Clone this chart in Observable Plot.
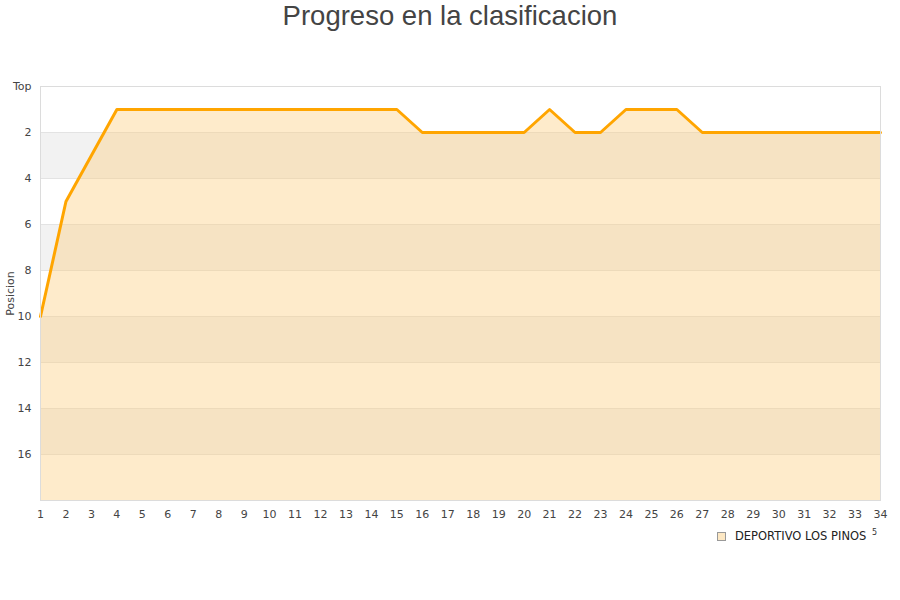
<!DOCTYPE html>
<html>
<head>
<meta charset="utf-8">
<script src="https://cdn.jsdelivr.net/npm/d3@7"></script>
<script src="https://cdn.jsdelivr.net/npm/@observablehq/plot@0.6"></script>
<style>
  html, body { margin: 0; padding: 0; background: #fff; }
  body { width: 900px; height: 600px; position: relative; overflow: hidden; font-family: "DejaVu Sans", sans-serif; }
  #title { height: 40px; line-height: 32px; text-align: center; font-family: "Liberation Sans", Arial, sans-serif; font-size: 27.5px; color: #444; }
  #legend { position: absolute; left: 0; top: 528px; width: 900px; height: 20px; font-size: 11.5px; color: #222; }
  #legend .sw { position: absolute; left: 717px; top: 4px; width: 7px; height: 7px; background: #fde8c4; border: 1px solid #999; }
  #legend .lb { position: absolute; left: 735px; top: 1px; }
  #legend .ex { position: absolute; left: 872px; top: 0px; font-size: 8px; color: #333; }
</style>
</head>
<body>
<div id="title">Progreso en la clasificacion</div>
<div id="chart"></div>
<div id="legend"><span class="sw"></span><span class="lb">DEPORTIVO LOS PINOS</span><span class="ex">5</span></div>
<script>
const rounds = d3.range(1, 35);
const positions = [10, 5, 3, 1, 1, 1, 1, 1, 1, 1, 1, 1, 1, 1, 1, 2, 2, 2, 2, 2, 1, 2, 2, 1, 1, 1, 2, 2, 2, 2, 2, 2, 2, 2];
const yTicks = [0, 2, 4, 6, 8, 10, 12, 14, 16];
const yTickLabels = ["Top", "2", "4", "6", "8", "10", "12", "14", "16"];
const bandStarts = [2, 6, 10, 14];
const yDomain = [0, 18];
const teamName = "DEPORTIVO LOS PINOS";

const data = rounds.map((r, i) => ({round: r, pos: positions[i]}));
const xMin = rounds[0], xMax = rounds[rounds.length - 1];

const chart = Plot.plot({
  width: 900,
  height: 480,
  marginTop: 46,
  marginBottom: 20,
  marginLeft: 40,
  marginRight: 20,
  style: {fontFamily: "DejaVu Sans, sans-serif", fontSize: "11px", color: "#444", background: "#fff"},
  x: {domain: [xMin, xMax], label: null},
  y: {domain: yDomain, reverse: true, label: null},
  marks: [
    Plot.rect(bandStarts, {x1: () => xMin, x2: () => xMax, y1: d => d, y2: d => d + 2, fill: "#f2f2f2"}),
    Plot.ruleY(yTicks.slice(1), {stroke: "#e3e3e3", strokeWidth: 1}),
    Plot.areaY(data, {x: "round", y1: yDomain[1], y2: "pos", fill: "rgb(252,205,125)", fillOpacity: 0.4}),
    Plot.line(data, {x: "round", y: "pos", stroke: "#ffa500", strokeWidth: 3, strokeLinejoin: "round"}),
    Plot.frame({stroke: "#dcdcdc", strokeWidth: 1}),
    Plot.axisX({ticks: rounds, tickFormat: d => String(d), tickSize: 0, tickPadding: 10, label: null, fill: "#444"}),
    Plot.axisY({ticks: yTicks, tickFormat: d => yTickLabels[yTicks.indexOf(d)], tickSize: 0, tickPadding: 9, label: null, fill: "#444"}),
    Plot.text(["Posicion"], {frameAnchor: "left", textAnchor: "middle", dx: -30, rotate: -90, fontSize: 11, fill: "#444"})
  ]
});
document.getElementById("chart").appendChild(chart);
</script>
</body>
</html>
